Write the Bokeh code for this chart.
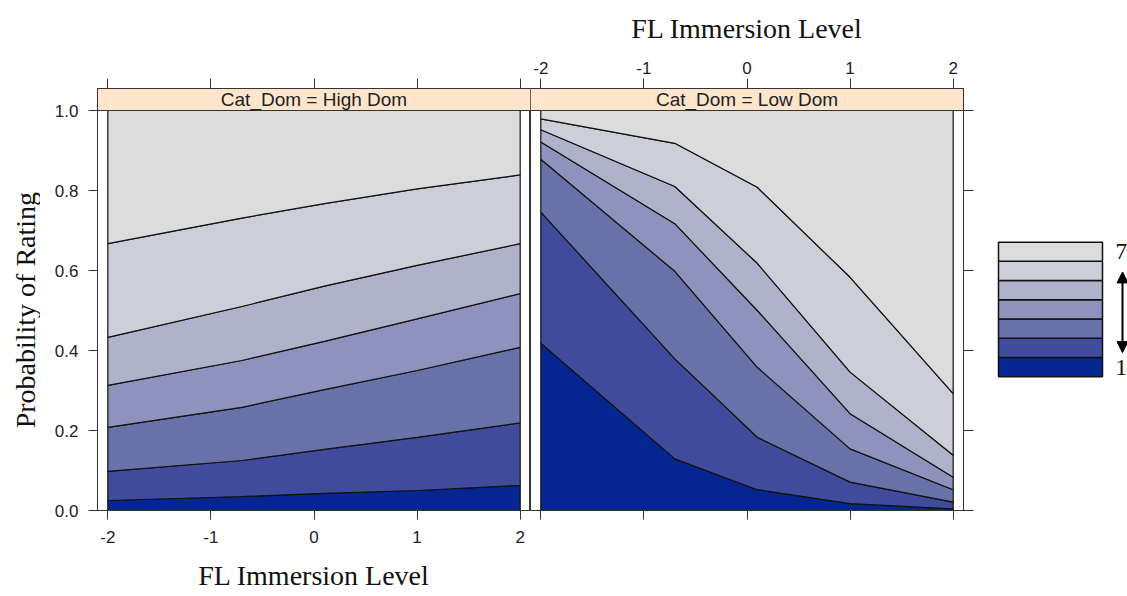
import math
from bokeh.plotting import figure
from bokeh.models import (Range1d, FixedTicker, Span, Label, Arrow, NormalHead,
                          LinearAxis, PrintfTickFormatter)
from bokeh.layouts import row
from bokeh.embed import file_html
from bokeh.resources import INLINE

# ---------------- data ----------------
immersion = [-2.0, -0.7, 0.1, 1.0, 2.0]

# cumulative P(rating <= k), Cat_Dom = High Dom
high_cum1 = [0.025, 0.035, 0.043, 0.050, 0.063]
high_cum2 = [0.098, 0.125, 0.153, 0.183, 0.219]
high_cum3 = [0.208, 0.258, 0.302, 0.350, 0.408]
high_cum4 = [0.313, 0.375, 0.423, 0.479, 0.542]
high_cum5 = [0.433, 0.510, 0.561, 0.613, 0.667]
high_cum6 = [0.667, 0.731, 0.767, 0.804, 0.839]

# cumulative P(rating <= k), Cat_Dom = Low Dom
low_cum1 = [0.418, 0.129, 0.052, 0.017, 0.004]
low_cum2 = [0.746, 0.379, 0.183, 0.071, 0.021]
low_cum3 = [0.878, 0.598, 0.358, 0.154, 0.052]
low_cum4 = [0.921, 0.717, 0.500, 0.242, 0.083]
low_cum5 = [0.952, 0.810, 0.618, 0.346, 0.138]
low_cum6 = [0.979, 0.918, 0.808, 0.583, 0.292]

ratings = ["1", "2", "3", "4", "5", "6", "7"]
band_colors = ["#052691", "#414B9B", "#6871A8", "#8F92BC", "#B0B2CC", "#CDCED9", "#DCDCDC"]
panel_titles = ["Cat_Dom = High Dom", "Cat_Dom = Low Dom"]
x_ticks = [-2, -1, 0, 1, 2]
y_ticks = [0.0, 0.2, 0.4, 0.6, 0.8, 1.0]
x_title = "FL Immersion Level"
y_title = "Probability of Rating"

# ---------------- style ----------------
SANS = "Liberation Sans"
SERIF = "Liberation Serif"
BORDER = "#333333"
STRIP_FILL = "#FFE5CC"
STRIP_H = 22 / 400.0
X0, X1 = -2.1, 2.1
FRAME_W, FRAME_H = 433, 422
TOP, BOTTOM = 88, 86
H = TOP + FRAME_H + BOTTOM
YT_W = 40


def style_axis(ax, ticks, labels, fmt, standoff, tick_out=9):
    ax.ticker = FixedTicker(ticks=ticks)
    ax.formatter = PrintfTickFormatter(format=fmt)
    ax.axis_line_color = BORDER
    ax.axis_line_width = 1
    ax.major_tick_line_color = BORDER
    ax.major_tick_out = tick_out
    ax.major_tick_in = 0
    ax.minor_tick_line_color = None
    ax.major_label_text_font = SANS
    ax.major_label_text_font_size = "17px"
    ax.major_label_text_color = "#222222"
    if labels:
        ax.major_label_standoff = standoff
    else:
        ax.major_label_overrides = {t: "" for t in ticks}
        ax.major_label_standoff = 0


def title_style(ax, standoff):
    ax.axis_label_text_font = SERIF
    ax.axis_label_text_font_size = "28px"
    ax.axis_label_text_font_style = "normal"
    ax.axis_label_text_color = "#111111"
    ax.axis_label_standoff = standoff


def make_panel(cums, title, is_left):
    lb = (97 - YT_W) if is_left else 0
    rb = 0 if is_left else 20
    p = figure(width=lb + FRAME_W + rb, height=H,
               x_range=Range1d(X0, X1), y_range=Range1d(0, 1 + STRIP_H),
               min_border_left=lb, min_border_right=rb,
               min_border_top=TOP, min_border_bottom=BOTTOM,
               x_axis_location=None, y_axis_location=None,
               output_backend="svg", toolbar_location=None)
    p.grid.visible = False
    p.outline_line_color = BORDER
    p.outline_line_width = 1
    p.background_fill_color = "white"
    p.border_fill_color = "white"

    bounds = [[0.0] * len(immersion)] + cums + [[1.0] * len(immersion)]
    xs, ys = [], []
    for k in range(len(ratings)):
        lower, upper = bounds[k], bounds[k + 1]
        xs.append(immersion + immersion[::-1])
        ys.append(lower + upper[::-1])
    p.patches(xs=xs, ys=ys, fill_color=band_colors, line_color="#111111", line_width=1.2)

    # strip
    p.quad(left=X0, right=X1, bottom=1.0, top=1.0 + STRIP_H,
           fill_color=STRIP_FILL, line_color=None)
    p.add_layout(Span(location=1.0, dimension="width", line_color=BORDER, line_width=1))
    p.add_layout(Label(x=0, y=1.0 + STRIP_H / 2, text=title, text_align="center",
                       text_baseline="middle", text_font=SANS, text_font_size="19px",
                       text_color="#222222"))

    below = LinearAxis()
    above = LinearAxis()
    style_axis(below, x_ticks, is_left, "%d", 11)
    style_axis(above, x_ticks, not is_left, "%d", 5, tick_out=10)
    if is_left:
        below.axis_label = x_title
        title_style(below, 14)
    else:
        above.axis_label = x_title
        title_style(above, 15)
    p.add_layout(below, "below")
    p.add_layout(above, "above")
    yax = LinearAxis()
    style_axis(yax, y_ticks, is_left, "%.1f", 10, tick_out=9 if is_left else 10)
    p.add_layout(yax, "left" if is_left else "right")
    return p


# ---------------- y title column ----------------
ytf = figure(width=YT_W, height=H, x_range=Range1d(0, YT_W), y_range=Range1d(H, 0),
             min_border=0, x_axis_location=None, y_axis_location=None,
             output_backend="svg", toolbar_location=None)
ytf.grid.visible = False
ytf.outline_line_color = None
ytf.add_layout(Label(x=25, y=TOP + 22 + 200 + 3, text=y_title, angle=math.pi / 2,
                     text_align="center", text_baseline="middle",
                     text_font=SERIF, text_font_size="28px", text_color="#111111"))

left = make_panel([high_cum1, high_cum2, high_cum3, high_cum4, high_cum5, high_cum6],
                  panel_titles[0], True)
right = make_panel([low_cum1, low_cum2, low_cum3, low_cum4, low_cum5, low_cum6],
                   panel_titles[1], False)

# ---------------- color key ----------------
leg = figure(width=144, height=H, x_range=Range1d(983, 1127), y_range=Range1d(H, 0),
             min_border=0, x_axis_location=None, y_axis_location=None,
             output_backend="svg", toolbar_location=None)
leg.grid.visible = False
leg.outline_line_color = None
key_top, key_bottom = 217.0, 407.0
key_left, key_right = 998.0, 1102.0
band_h = (key_bottom - key_top) / len(ratings)
bottoms = [key_bottom - i * band_h for i in range(len(ratings))]
tops = [b - band_h for b in bottoms]
leg.quad(left=key_left, right=key_right, bottom=bottoms, top=tops,
         fill_color=band_colors, line_color="#111111", line_width=1.5)
leg.add_layout(Label(x=1115, y=key_top + band_h / 2, text=ratings[-1], text_align="left",
                     text_baseline="middle", text_font=SERIF, text_font_size="23px",
                     text_color="#111111"))
leg.add_layout(Label(x=1115, y=key_bottom - band_h / 2, text=ratings[0], text_align="left",
                     text_baseline="middle", text_font=SERIF, text_font_size="23px",
                     text_color="#111111"))
leg.add_layout(Arrow(x_start=1122, y_start=key_top + 1.55 * band_h,
                     x_end=1122, y_end=key_bottom - 1.25 * band_h,
                     line_width=2, line_color="black",
                     start=NormalHead(size=11, fill_color="black", line_color="black"),
                     end=NormalHead(size=11, fill_color="black", line_color="black")))

layout = row(ytf, left, right, leg, spacing=0)
open("out.html", "w").write(file_html(layout, INLINE))
